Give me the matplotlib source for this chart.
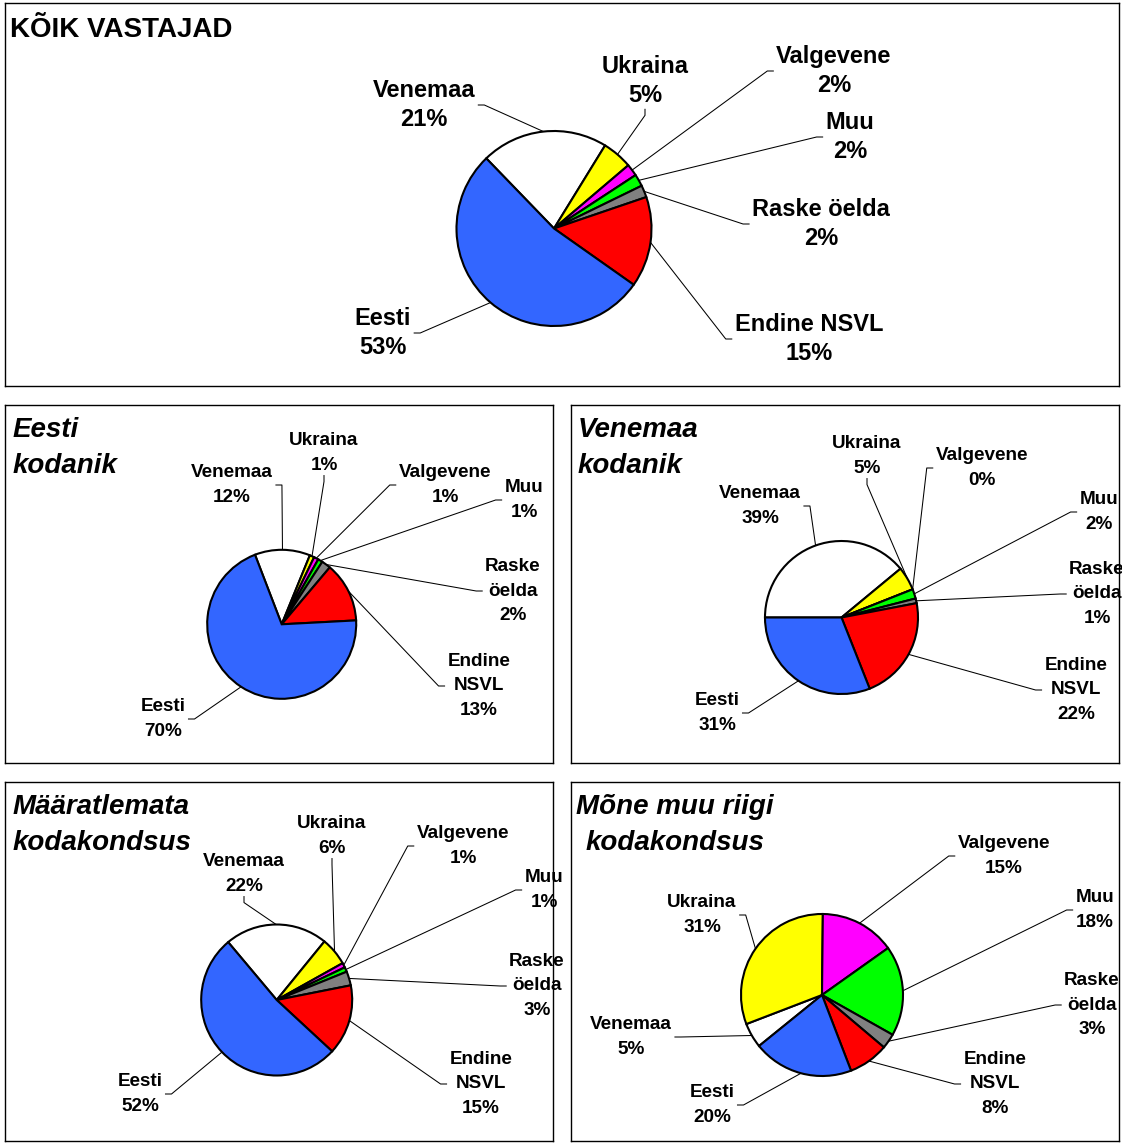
import matplotlib.pyplot as plt
import numpy as np

plt.rcParams['font.family'] = ['Liberation Sans', 'DejaVu Sans']

W, H = 1122, 1143

# slices in the order they go clockwise round every pie
names = ['Venemaa', 'Ukraina', 'Valgevene', 'Muu', 'Raske öelda', 'Endine NSVL', 'Eesti']
short_names = ['Venemaa', 'Ukraina', 'Valgevene', 'Muu', 'Raske\nöelda', 'Endine\nNSVL', 'Eesti']
colors = ['#FFFFFF', '#FFFF00', '#FF00FF', '#00FF00', '#808080', '#FF0000', '#3366FF']

# percentages per group
koik = [21, 5, 2, 2, 2, 15, 53]
eesti_kod = [12, 1, 1, 1, 2, 13, 70]
vene_kod = [39, 5, 0, 2, 1, 22, 31]
maaratlemata = [22, 6, 1, 1, 3, 15, 52]
muu_riik = [5, 31, 15, 18, 3, 8, 20]

titles = ['KÕIK VASTAJAD', 'Eesti\nkodanik', 'Venemaa\nkodanik',
          'Määratlemata\nkodakondsus', 'Mõne muu riigi\nkodakondsus']

# layout, in picture pixels (y from the top); tpos is the baseline of the last title line
panels = [
    dict(vals=koik, title=titles[0], box=(5, 3, 1119, 386), c=(554, 228.5), r=97.5, start=134,
         fs=17, ls=1.37, names=names, tpos=(10, 37), italic=False,
         lab=[(424, 105), (645, 81), (834, 71), (850, 137), (821, 224), (809, 339), (383, 333)],
         side='rbllllr'),
    dict(vals=eesti_kod, title=titles[1], box=(5, 405, 553, 763), c=(281.7, 624.3), r=74.5, start=111,
         fs=13.6, ls=1.55, names=short_names, tpos=(13, 473), italic=True,
         lab=[(232, 485), (324, 453), (445, 485), (524, 500), (513, 591), (479, 686), (163, 719)],
         side='rbllllr'),
    dict(vals=vene_kod, title=titles[2], box=(571, 405, 1119, 763), c=(841.5, 617.5), r=76.5, start=180,
         fs=13.6, ls=1.55, names=short_names, tpos=(578, 473), italic=True,
         lab=[(760, 506), (867, 456), (982, 468), (1099, 512), (1097, 594), (1076, 690), (717, 713)],
         side='rbllllr'),
    dict(vals=maaratlemata, title=titles[3], box=(5, 782, 553, 1141), c=(276.7, 1000), r=75.5, start=130,
         fs=13.6, ls=1.55, names=short_names, tpos=(13, 850), italic=True,
         lab=[(244, 874), (332, 836), (463, 846), (544, 890), (537, 986), (481, 1084), (140, 1094)],
         side='bbllllr'),
    dict(vals=muu_riik, title=titles[4], box=(571, 782, 1119, 1141), c=(822, 995), r=81, start=219,
         fs=13.6, ls=1.55, names=short_names, tpos=(576, 850), italic=True,
         lab=[(631, 1037), (702, 915), (1004, 856), (1095, 910), (1092, 1005), (995, 1084), (712, 1105)],
         side='rrllllr'),
]

fig = plt.figure(figsize=(W / 100, H / 100), dpi=100)

todo = []
for p in panels:
    x0, y0, x1, y1 = p['box']
    ax = fig.add_axes([x0 / W, 1 - y1 / H, (x1 - x0) / W, (y1 - y0) / H])
    cx, cy = p['c']
    wedges, _ = ax.pie(p['vals'], colors=colors, startangle=p['start'], counterclock=False,
                       center=(cx, H - cy), radius=p['r'], frame=True,
                       wedgeprops=dict(edgecolor='black', linewidth=1.5))
    ax.set_aspect('auto')
    ax.set_xlim(x0, x1)
    ax.set_ylim(H - y1, H - y0)
    ax.set_xticks([])
    ax.set_yticks([])
    for s in ax.spines.values():
        s.set_linewidth(1.0)

    # title
    tx, ty = p['tpos']
    ax.text(tx, H - ty, p['title'], ha='left', va='baseline', fontsize=20, fontweight='bold',
            fontstyle='italic' if p['italic'] else 'normal', linespacing=1.5,
            multialignment='center' if p['title'] == titles[4] else 'left')

    # slice labels
    for w, name, v, (lx, ly), sd in zip(wedges, p['names'], p['vals'], p['lab'], p['side']):
        t = ax.text(lx, H - ly, f'{name}\n{v}%', ha='center', va='center', fontsize=p['fs'],
                    fontweight='bold', linespacing=p['ls'], multialignment='center')
        ang = np.deg2rad((w.theta1 + w.theta2) / 2)
        edge = (cx + p['r'] * np.cos(ang), H - cy + p['r'] * np.sin(ang))
        todo.append((ax, t, edge, sd))

# leader lines need the text sizes
fig.canvas.draw()
for ax, t, edge, sd in todo:
    bb = t.get_window_extent().transformed(ax.transData.inverted())
    mx, my = (bb.x0 + bb.x1) / 2, (bb.y0 + bb.y1) / 2
    if sd == 'l':
        pts = [edge, (bb.x0 - 9, my), (bb.x0 - 3, my)]
    elif sd == 'r':
        pts = [edge, (bb.x1 + 9, my), (bb.x1 + 3, my)]
    else:
        pts = [edge, (mx, bb.y0 - 8), (mx, bb.y0 - 2)]
    xs, ys = zip(*pts)
    ax.plot(xs, ys, color='black', linewidth=0.75, zorder=0.5, clip_on=True)

fig.savefig('out.png', dpi=100)
